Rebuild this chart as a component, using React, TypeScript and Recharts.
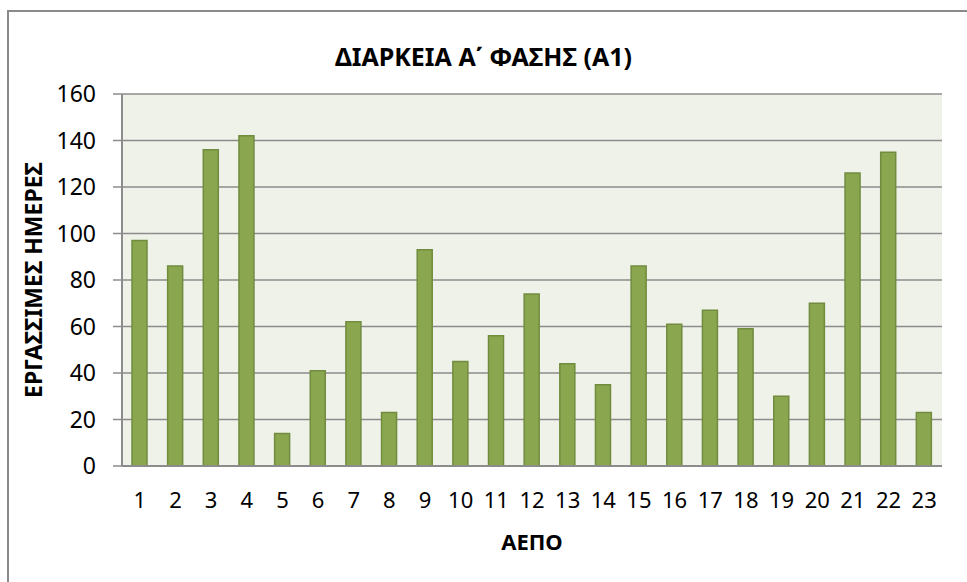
import React from "react";
import { BarChart, Bar, XAxis, YAxis, CartesianGrid, Label } from "recharts";

const categories = ["1","2","3","4","5","6","7","8","9","10","11","12","13","14","15","16","17","18","19","20","21","22","23"];
const values = [97, 86, 136, 142, 14, 41, 62, 23, 93, 45, 56, 74, 44, 35, 86, 61, 67, 59, 30, 70, 126, 135, 23];
const yTicks = [0, 20, 40, 60, 80, 100, 120, 140, 160];
const titleText = "ΔΙΑΡΚΕΙΑ Α΄ ΦΑΣΗΣ (Α1)";
const xLabel = "ΑΕΠΟ";
const yLabel = "ΕΡΓΑΣΣΙΜΕΣ ΗΜΕΡΕΣ";

const data = categories.map((c, i) => ({ name: c, value: values[i] }));

const FONT = "'Noto Sans', 'Open Sans', sans-serif";

export default function App() {
  return (
    <div style={{ position: "absolute", left: 0, top: 0, width: 967, height: 582, overflow: "hidden", background: "#fff", fontFamily: FONT }}>
      <div style={{ position: "absolute", left: 7, top: 10, width: 2000, height: 2000, border: "2px solid #8a8a8a", boxSizing: "border-box" }} />
      <div style={{ position: "absolute", left: 0, width: 967, top: 41, lineHeight: "30px", textAlign: "center", fontSize: 25, fontWeight: 700, color: "#000" }}>
        {titleText}
      </div>
      <div style={{ position: "absolute", left: 0, top: 0 }}>
        <BarChart width={967} height={582} data={data} margin={{ top: 94, right: 25, bottom: 0, left: 0 }} barCategoryGap={0}>
          <CartesianGrid vertical={false} stroke="#8c8c8c" strokeWidth={1.5} fill="#eff2e9" fillOpacity={1} />
          <XAxis
            dataKey="name"
            tickLine={false}
            axisLine={{ stroke: "#8c8c8c", strokeWidth: 2 }}
            tickSize={0}
            tickMargin={26}
            interval={0}
            tick={{ fill: "#000", fontSize: 22, fontFamily: FONT }}
            height={116}
          >
            <Label value={xLabel} position="insideTop" offset={68} style={{ fill: "#000", fontSize: 22, fontWeight: 700, fontFamily: FONT }} />
          </XAxis>
          <YAxis
            domain={[0, 160]}
            ticks={yTicks}
            interval={0}
            width={122}
            tickSize={9}
            tickMargin={17}
            tickLine={{ stroke: "#8c8c8c", strokeWidth: 1.5 }}
            axisLine={{ stroke: "#8c8c8c", strokeWidth: 2 }}
            tick={{ fill: "#000", fontSize: 23, fontFamily: FONT }}
          >
            <Label value={yLabel} angle={-90} position="insideLeft" offset={34} style={{ textAnchor: "middle", fill: "#000", fontSize: 23, fontWeight: 700, fontFamily: FONT }} />
          </YAxis>
          <Bar dataKey="value" fill="#8aa64f" stroke="#718c3e" strokeWidth={1.5} barSize={15} isAnimationActive={false} />
        </BarChart>
      </div>
    </div>
  );
}
